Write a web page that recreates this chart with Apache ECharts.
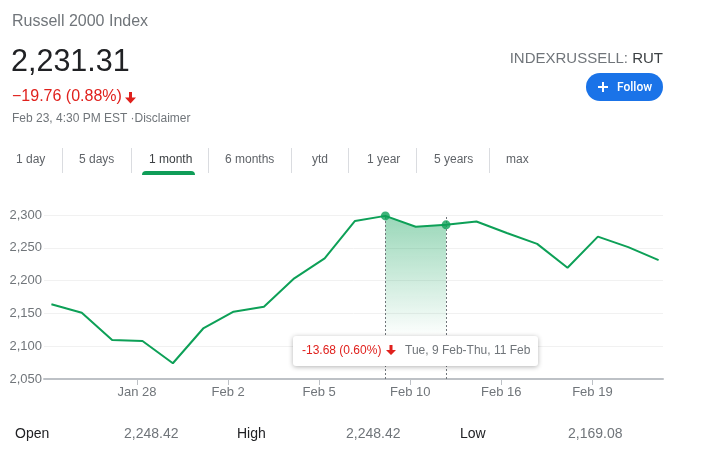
<!DOCTYPE html>
<html lang="en">
<head>
<meta charset="utf-8">
<title>Russell 2000 Index</title>
<script src="https://cdn.jsdelivr.net/npm/echarts@6.0.0/dist/echarts.min.js"></script>
<style>
    html, body { margin: 0; padding: 0; background: #fff; }
    body { width: 708px; height: 461px; position: relative; overflow: hidden;
           font-family: "Liberation Sans", Arial, sans-serif; }
    #chart { position: absolute; left: 0; top: 0; width: 708px; height: 461px; }
    .t { position: absolute; line-height: 1; white-space: nowrap; }
    .sep { position: absolute; top: 148px; width: 1px; height: 25px; background: #dadce0; }
    .tab { position: absolute; top: 153px; font-size: 12px; line-height: 1; color: #5f6368; }
    .lbl { position: absolute; top: 426px; font-size: 14px; line-height: 1; color: #202124; }
    .val { position: absolute; top: 426px; font-size: 14px; line-height: 1; color: #70757a; }
    #follow { position: absolute; left: 586px; top: 73px; width: 77px; height: 28px;
              border-radius: 14px; background: #1a73e8; }
</style>
</head>
<body>
<div id="chart"></div>

<div class="t" style="left:12px;top:13px;font-size:16px;color:#70757a;">Russell 2000 Index</div>
<div class="t" style="left:11px;top:45px;font-size:30.5px;color:#202124;">2,231.31</div>
<div class="t" style="left:12px;top:88px;font-size:16px;color:#e0211d;">−19.76 (0.88%)</div>
<svg style="position:absolute;left:125px;top:92px" width="11" height="12" viewBox="0 0 11 12">
    <polygon points="4,0 7,0 7,5.5 11,5.5 5.5,11.5 0,5.5 4,5.5" fill="#e0211d"/>
</svg>
<div class="t" style="left:12px;top:112px;font-size:12px;color:#70757a;">Feb 23, 4:30 PM EST ·Disclaimer</div>

<div class="t" style="right:45px;top:50px;font-size:15px;color:#70757a;">INDEXRUSSELL: <span style="color:#3c4043">RUT</span></div>
<div id="follow">
    <svg style="position:absolute;left:12px;top:9px" width="10" height="10" viewBox="0 0 10 10">
        <rect x="4" y="0" width="2" height="10" fill="#fff"/>
        <rect x="0" y="4" width="10" height="2" fill="#fff"/>
    </svg>
    <div class="t" style="left:31px;top:8px;font-family:Roboto,sans-serif;font-weight:500;font-size:12px;color:#fff;">Follow</div>
</div>

<div class="tab" style="left:16px">1 day</div>
<div class="sep" style="left:62px"></div>
<div class="tab" style="left:79px">5 days</div>
<div class="sep" style="left:131px"></div>
<div class="tab" style="left:149px;color:#3c4043">1 month</div>
<div class="sep" style="left:208px"></div>
<div class="tab" style="left:225px">6 months</div>
<div class="sep" style="left:291px"></div>
<div class="tab" style="left:312px">ytd</div>
<div class="sep" style="left:348px"></div>
<div class="tab" style="left:367px">1 year</div>
<div class="sep" style="left:416px"></div>
<div class="tab" style="left:434px">5 years</div>
<div class="sep" style="left:489px"></div>
<div class="tab" style="left:506px">max</div>
<div style="position:absolute;left:142px;top:171px;width:53px;height:4px;border-radius:4px 4px 0 0;background:#0f9d58;"></div>

<div class="lbl" style="left:15px">Open</div>
<div class="val" style="left:124px">2,248.42</div>
<div class="lbl" style="left:237px">High</div>
<div class="val" style="left:346px">2,248.42</div>
<div class="lbl" style="left:460px">Low</div>
<div class="val" style="left:568px">2,169.08</div>

<script type="text/javascript">
    // daily closes, one month
    var dates = ['Jan 25', 'Jan 26', 'Jan 27', 'Jan 28', 'Jan 29', 'Feb 1', 'Feb 2', 'Feb 3', 'Feb 4', 'Feb 5',
                 'Feb 8', 'Feb 9', 'Feb 10', 'Feb 11', 'Feb 12', 'Feb 16', 'Feb 17', 'Feb 18', 'Feb 19', 'Feb 22', 'Feb 23'];
    var closes = [2164, 2151, 2109.5, 2108, 2074, 2127, 2152.6, 2160, 2203.5, 2234,
                  2291, 2298.66, 2282, 2284.98, 2290, 2272.5, 2256, 2219.7, 2267, 2251.07, 2231.31];
    var xTickLabels = ['Jan 28', 'Feb 2', 'Feb 5', 'Feb 10', 'Feb 16', 'Feb 19'];
    var selFrom = 'Feb 9';
    var selTo = 'Feb 11';
    var selCaption = 'Tue, 9 Feb-Thu, 11 Feb';

    var green = '#0da057';
    var red = '#e0211d';
    var grey = '#70757a';
    var font = '"Liberation Sans", Arial, sans-serif';

    var i0 = dates.indexOf(selFrom);
    var i1 = dates.indexOf(selTo);
    var lineData = closes.map(function (v, i) { return [i, v]; });
    var selData = lineData.slice(i0, i1 + 1);
    // ticks sit slightly before the close point of the day
    var tickVals = xTickLabels.map(function (d) { return dates.indexOf(d) - 0.18; });

    var chart = echarts.init(document.getElementById('chart'));
    chart.setOption({
        animation: false,
        textStyle: { fontFamily: font },
        grid: { left: 44, right: 45, top: 215, bottom: 82 },
        xAxis: {
            type: 'value',
            min: -0.244,
            max: 20.145,
            axisLine: { lineStyle: { color: '#bdc1c6', width: 2 } },
            axisTick: { customValues: tickVals, length: 6, lineStyle: { color: '#bdc1c6', width: 1 } },
            axisLabel: {
                customValues: tickVals, color: grey, fontSize: 13, margin: 7,
                formatter: function (v) {
                    for (var k = 0; k < tickVals.length; k++) {
                        if (Math.abs(tickVals[k] - v) < 1e-6) return xTickLabels[k];
                    }
                    return '';
                }
            },
            splitLine: { show: false }
        },
        yAxis: {
            type: 'value',
            min: 2050,
            max: 2300,
            interval: 50,
            axisLine: { show: false },
            axisTick: { show: false },
            axisLabel: {
                color: grey, fontSize: 13, margin: 2,
                formatter: function (v) { return v.toLocaleString('en-US'); }
            },
            splitLine: { lineStyle: { color: '#f1f1f1', width: 1 } }
        },
        series: [
            {
                type: 'line',
                data: selData,
                showSymbol: false,
                lineStyle: { width: 0, opacity: 0 },
                areaStyle: {
                    origin: 'start',
                    color: new echarts.graphic.LinearGradient(0, 0, 0, 1, [
                        { offset: 0, color: 'rgba(13,160,87,0.6)' },
                        { offset: 0.75, color: 'rgba(13,160,87,0)' }
                    ])
                },
                markLine: {
                    silent: true,
                    symbol: 'none',
                    label: { show: false },
                    lineStyle: { color: grey, type: [2, 2], width: 1 },
                    data: [{ xAxis: i0 }, { xAxis: i1 }]
                },
                z: 1
            },
            {
                type: 'line',
                data: lineData,
                showSymbol: false,
                lineStyle: { color: green, width: 2 },
                z: 3
            },
            {
                type: 'scatter',
                data: [lineData[i0], lineData[i1]],
                symbolSize: 9,
                itemStyle: { color: green },
                z: 5
            }
        ]
    });

    // range info box under the selection
    var diff = closes[i1] - closes[i0];
    var pct = Math.abs(diff) / closes[i0] * 100;
    var changeText = diff.toFixed(2) + ' (' + pct.toFixed(2) + '%)';
    var pa = chart.convertToPixel({ gridIndex: 0 }, [i0, 2050]);
    var pb = chart.convertToPixel({ gridIndex: 0 }, [i1, 2050]);
    var boxW = 245, boxH = 30;
    var bx = Math.round((pa[0] + pb[0]) / 2 - boxW / 2);
    var by = Math.round(pa[1] - 43);
    var ax = bx + 98;
    var ay = by + 9;

    chart.setOption({
        graphic: [
            {
                type: 'rect',
                shape: { x: bx, y: by, width: boxW, height: boxH, r: 3 },
                style: { fill: '#fff', shadowBlur: 5, shadowOffsetY: 1, shadowColor: 'rgba(0,0,0,0.3)' },
                z: 10
            },
            {
                type: 'text',
                x: bx + 9, y: by + boxH / 2,
                style: { text: changeText, fill: red, fontSize: 12, fontFamily: font, verticalAlign: 'middle' },
                z: 11
            },
            {
                type: 'polygon',
                shape: { points: [[ax - 1.5, ay], [ax + 1.5, ay], [ax + 1.5, ay + 5], [ax + 5, ay + 5],
                                  [ax, ay + 10], [ax - 5, ay + 5], [ax - 1.5, ay + 5]] },
                style: { fill: red },
                z: 11
            },
            {
                type: 'text',
                x: bx + 112, y: by + boxH / 2,
                style: { text: selCaption, fill: grey, fontSize: 12, fontFamily: font, verticalAlign: 'middle' },
                z: 11
            }
        ]
    });
</script>
</body>
</html>
